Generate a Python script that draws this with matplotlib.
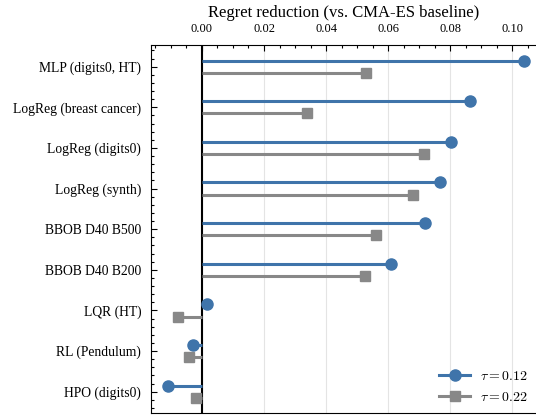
import matplotlib
matplotlib.use("Agg")
import matplotlib.pyplot as plt
import numpy as np
from matplotlib.ticker import MultipleLocator

# tasks, top to bottom
tasks = ["MLP (digits0, HT)", "LogReg (breast cancer)", "LogReg (digits0)",
         "LogReg (synth)", "BBOB D40 B500", "BBOB D40 B200",
         "LQR (HT)", "RL (Pendulum)", "HPO (digits0)"]

# regret reduction relative to CMA-ES for the two tau settings
red_tau012 = [0.1039, 0.0865, 0.0803, 0.0766, 0.0719, 0.0610, 0.0016, -0.0029, -0.0110]
red_tau022 = [0.0527, 0.0337, 0.0715, 0.0680, 0.0560, 0.0524, -0.0078, -0.0043, -0.0018]

labels = [r"$\tau = 0.12$", r"$\tau = 0.22$"]

plt.rcParams["font.family"] = ["Liberation Serif", "DejaVu Serif"]
plt.rcParams["mathtext.fontset"] = "cm"

blue = "#3f74aa"
grey = "#888888"

fig = plt.figure(figsize=(5.36, 4.15), dpi=100)
ax = fig.add_axes([151 / 536, 2 / 415, 385.6 / 536, 368 / 415])

y = np.arange(len(tasks))
off = 0.15

for vals, dy, col, mk, ms, lab in [(red_tau012, -off, blue, "o", 8, labels[0]),
                                   (red_tau022, off, grey, "s", 7, labels[1])]:
    for yi, v in zip(y, vals):
        ax.plot([0, v], [yi + dy, yi + dy], color=col, lw=2.2,
                solid_capstyle="butt", zorder=3)
        ax.plot([v], [yi + dy], color=col, marker=mk, ms=ms, ls="none",
                zorder=4, clip_on=False)
    ax.plot([], [], color=col, lw=2.2, marker=mk, ms=ms, label=lab)

ax.axvline(0, color="black", lw=1.5, zorder=2)

ax.set_xlim(-0.0164, 0.1078)
ax.set_ylim(len(tasks) - 1 + 0.525, -0.535)
ax.set_yticks(y)
ax.set_yticklabels(tasks, fontsize=9.8)
ax.yaxis.set_minor_locator(MultipleLocator(0.2))

ax.xaxis.tick_top()
ax.xaxis.set_label_position("top")
ax.set_xticks([0.0, 0.02, 0.04, 0.06, 0.08, 0.10])
ax.set_xticklabels(["0.00", "0.02", "0.04", "0.06", "0.08", "0.10"], fontsize=9)
ax.xaxis.set_minor_locator(MultipleLocator(0.005))
ax.set_xlabel("Regret reduction (vs. CMA-ES baseline)", fontsize=12, labelpad=4)

ax.tick_params(which="both", direction="in", top=True, bottom=False,
               left=True, right=False, width=0.8)
ax.tick_params(which="major", length=4.5)
ax.tick_params(which="minor", length=2.5)
ax.tick_params(axis="x", which="major", pad=7.5)
ax.tick_params(axis="y", which="major", pad=7)

ax.grid(axis="x", which="major", color="#e4e4e4", lw=0.8, zorder=0)
ax.set_axisbelow(True)

ax.legend(loc="lower right", frameon=False, fontsize=10, handlelength=2.2,
          borderaxespad=0.25, labelspacing=0.55, handletextpad=0.7)

fig.savefig("out.png", dpi=100)
